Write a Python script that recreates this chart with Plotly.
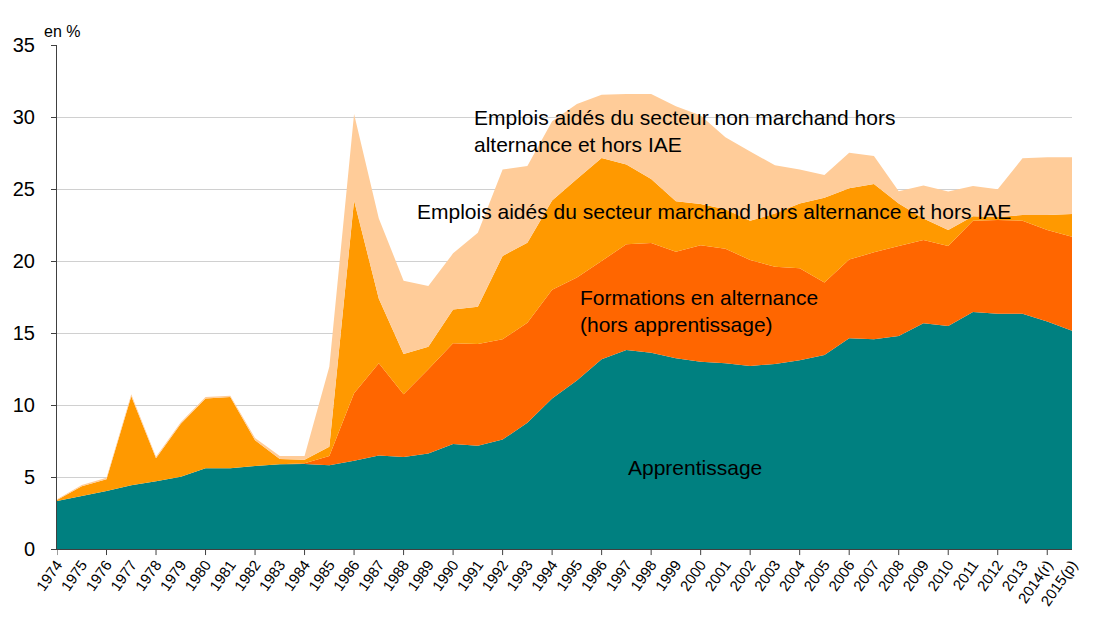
import plotly.graph_objects as go

years = ["1974", "1975", "1976", "1977", "1978", "1979", "1980", "1981", "1982", "1983",
         "1984", "1985", "1986", "1987", "1988", "1989", "1990", "1991", "1992", "1993",
         "1994", "1995", "1996", "1997", "1998", "1999", "2000", "2001", "2002", "2003",
         "2004", "2005", "2006", "2007", "2008", "2009", "2010", "2011", "2012", "2013",
         "2014(r)", "2015(p)"]

apprentissage = [3.33, 3.68, 4.03, 4.42, 4.70, 5.02, 5.60, 5.60, 5.77, 5.88,
                 5.90, 5.82, 6.13, 6.50, 6.39, 6.64, 7.29, 7.17, 7.60, 8.77,
                 10.45, 11.70, 13.17, 13.82, 13.63, 13.24, 13.01, 12.90, 12.71, 12.85,
                 13.10, 13.47, 14.63, 14.56, 14.79, 15.67, 15.49, 16.46, 16.34, 16.34,
                 15.79, 15.16]

formations = [0, 0, 0, 0, 0, 0, 0, 0, 0, 0,
              0.05, 0.64, 4.68, 6.40, 4.35, 5.84, 6.99, 7.07, 6.96, 6.95,
              7.55, 7.15, 6.83, 7.35, 7.62, 7.41, 8.09, 7.95, 7.36, 6.75,
              6.40, 5.03, 5.47, 6.04, 6.26, 5.78, 5.56, 6.34, 6.51, 6.46,
              6.36, 6.53]

marchand = [0.07, 0.67, 0.82, 6.18, 1.60, 3.68, 4.85, 4.95, 1.78, 0.37,
            0.25, 0.64, 13.39, 4.48, 2.80, 1.57, 2.36, 2.59, 5.79, 5.55,
            6.20, 6.85, 7.15, 5.53, 4.45, 3.50, 2.85, 2.75, 2.73, 3.70,
            4.50, 5.90, 4.95, 4.75, 2.95, 1.50, 1.10, 0.30, 0.20, 0.39,
            1.04, 1.57]

non_marchand = [0.05, 0.10, 0.10, 0.15, 0.10, 0.10, 0.10, 0.10, 0.15, 0.20,
                0.25, 5.56, 6.00, 5.58, 5.09, 4.21, 3.89, 5.14, 6.00, 5.33,
                5.50, 5.20, 4.40, 4.90, 5.90, 6.60, 6.15, 5.00, 4.80, 3.35,
                2.35, 1.57, 2.47, 1.95, 0.85, 2.30, 2.68, 2.11, 1.93, 3.94,
                4.01, 3.94]

series = [
    ("Apprentissage", apprentissage, "#008080"),
    ("Formations en alternance (hors apprentissage)", formations, "#FF6600"),
    ("Emplois aidés du secteur marchand hors alternance et hors IAE", marchand, "#FF9900"),
    ("Emplois aidés du secteur non marchand hors alternance et hors IAE", non_marchand, "#FFCC99"),
]

xs = list(range(len(years)))
FONT = "Liberation Sans, Arial, sans-serif"

fig = go.Figure()
for name, vals, color in series:
    fig.add_trace(go.Scatter(
        x=xs, y=vals, name=name, stackgroup="one", mode="none",
        fillcolor=color, line=dict(width=0), hoveron="fills+points",
    ))

# major tick marks every two categories
shapes = []
for i in range(0, len(years), 2):
    shapes.append(dict(type="line", xref="x", yref="paper", x0=i, x1=i, y0=0, y1=-0.012,
                       line=dict(color="#404040", width=1)))

fig.update_layout(
    width=1099, height=619,
    margin=dict(l=49, r=35, t=37, b=78, autoexpand=False),
    paper_bgcolor="white", plot_bgcolor="white",
    showlegend=False,
    font=dict(family=FONT, color="black"),
    shapes=shapes,
    xaxis=dict(
        range=[0, len(years) - 1], tickmode="array", tickvals=xs, ticktext=years,
        tickangle=-55, ticks="", showgrid=False, zeroline=False, automargin=False,
        showline=True, linecolor="#404040", linewidth=1,
        tickfont=dict(size=15, family=FONT, color="black"),
    ),
    yaxis=dict(
        range=[0, 35], dtick=5, tick0=0, ticks="outside", ticklen=5, tickcolor="#404040",
        showgrid=True, gridcolor="#D0D0D0", gridwidth=1, zeroline=False, automargin=False,
        showline=True, linecolor="#404040", linewidth=1,
        tickfont=dict(size=20, family=FONT, color="black"), ticklabelstandoff=12,
    ),
    annotations=[
        dict(text="en %", xref="paper", yref="paper", x=-0.015, y=1.026,
             xanchor="left", yanchor="middle", showarrow=False,
             font=dict(size=16, family=FONT, color="black")),
        dict(text="Emplois aidés du secteur non marchand hors<br>alternance et hors IAE",
             xref="x", yref="y", x=16.76, y=29.0, xanchor="left", yanchor="middle",
             align="left", showarrow=False, font=dict(size=21, family=FONT, color="black")),
        dict(text="Emplois aidés du secteur marchand hors alternance et hors IAE",
             xref="x", yref="y", x=14.46, y=23.47, xanchor="left", yanchor="middle",
             align="left", showarrow=False, font=dict(size=21, family=FONT, color="black")),
        dict(text="Formations en alternance<br>(hors apprentissage)",
             xref="x", yref="y", x=21.04, y=16.53, xanchor="left", yanchor="middle",
             align="left", showarrow=False, font=dict(size=21, family=FONT, color="black")),
        dict(text="Apprentissage",
             xref="x", yref="y", x=25.77, y=5.69, xanchor="center", yanchor="middle",
             showarrow=False, font=dict(size=21, family=FONT, color="black")),
    ],
)

fig.write_html("out.html")
